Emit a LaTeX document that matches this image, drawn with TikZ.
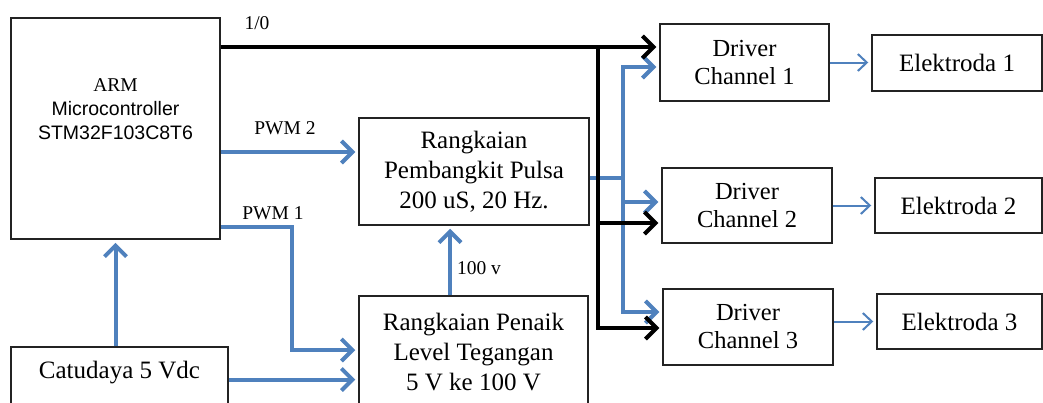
\documentclass[tikz,border=0pt]{standalone}
\usepackage{fontspec}
\setmainfont{Liberation Serif}
\newfontfamily\arialfont{Liberation Sans}
\usetikzlibrary{arrows.meta}
\definecolor{flowblue}{RGB}{79,129,189}
\definecolor{boxline}{RGB}{35,35,35}
\begin{document}
\begin{tikzpicture}[x=1pt,y=-1pt,
  box/.style={draw=boxline, line width=1.5pt, rectangle, inner sep=0pt, align=center,
              text=black, font=\fontsize{25}{30}\selectfont},
  drvbox/.style={box, font=\fontsize{24.5}{28}\selectfont},
  bigtxt/.style={inner sep=0pt, align=center, font=\fontsize{25}{30}\selectfont},
  lbl/.style={inner sep=0pt, font=\fontsize{19.5}{24}\selectfont},
  blk/.style={draw=black, line width=4pt, shorten >=3pt,
              -{Straight Barb[length=11pt,width=22pt]}},
  blu/.style={draw=flowblue, line width=4pt, shorten >=3pt,
              -{Straight Barb[length=11pt,width=22pt]}},
  thinblu/.style={draw=flowblue, line width=2pt, shorten >=3pt,
              -{Straight Barb[length=9pt,width=17pt]}},
  plainblu/.style={draw=flowblue, line width=4pt},
  plainblk/.style={draw=black, line width=4pt}
]
\useasboundingbox (0,0) rectangle (1043,402);
\fill[white] (0,0) rectangle (1043,402);
\clip (0,0) rectangle (1043,402);

% blocks
\node[box, minimum width=209pt, minimum height=221pt] (arm) at (115.5,128.5) {};
\node[inner sep=0pt, align=center, font=\fontsize{19.5}{24}\selectfont] (armtext) at (115.5,109)
  {ARM\\{\arialfont Microcontroller}\\{\arialfont STM32F103C8T6}};
\node[box, minimum width=217pt, minimum height=65pt] (catu) at (119.5,379.5) {};
\node[bigtxt] (catutext) at (119.5,373) {Catudaya 5 Vdc};
\node[box, minimum width=230pt, minimum height=107pt] (pulsa) at (474,171.5)
  {Rangkaian\\Pembangkit Pulsa\\200 uS, 20 Hz.};
\node[box, minimum width=229pt, minimum height=112pt] (penaik) at (473.5,352)
  {Rangkaian Penaik\\Level Tegangan\\5 V ke 100 V};
\node[drvbox, minimum width=169pt, minimum height=77pt] (drv1) at (744.5,62.5) {Driver\\Channel 1};
\node[drvbox, minimum width=170pt, minimum height=75pt] (drv2) at (747,205.5) {Driver\\Channel 2};
\node[drvbox, minimum width=170pt, minimum height=76pt] (drv3) at (748,327) {Driver\\Channel 3};
\node[box, minimum width=170pt, minimum height=56pt] (el1) at (957,63) {Elektroda 1};
\node[box, minimum width=167pt, minimum height=55pt] (el2) at (958.5,205.5) {Elektroda 2};
\node[box, minimum width=165pt, minimum height=55pt] (el3) at (959.5,321.5) {Elektroda 3};

% junction points
\coordinate (kb) at (598,47);
\coordinate (bj) at (623,178);
\coordinate (p1) at (292,227);

% pulse output bus (blue)
\draw[plainblu] ([yshift=-6.5pt]pulsa.east) -- (bj);
\draw[blu] (bj) |- ([yshift=-4.5pt]drv1.west);
\draw[blu] (bj) |- ([yshift=3.5pt]drv2.west);
\draw[blu] (bj) |- ([yshift=15pt]drv3.west);

% 1/0 enable bus (black)
\draw[blk] (arm.east |- kb) -- ([yshift=15.5pt]drv1.west);
\draw[plainblk] (kb) -- ++(0,2);
\draw[blk] (kb) |- ([yshift=-17.5pt]drv2.west);
\draw[blk] (kb) |- ([yshift=-1pt]drv3.west);

% controller outputs
\draw[blu] ([yshift=-23.5pt]arm.east) -- ([yshift=19.5pt]pulsa.west);
\draw[blu] ([yshift=-98.5pt]arm.east) -- (p1) |- ([yshift=2pt]penaik.west);

% supply and level shifter
\draw[blu] (catu.north -| arm.south) -- (arm.south);
\draw[blu] (catu.east) -- (catu.east -| penaik.west);
\draw[blu] ([xshift=-23.5pt]penaik.north) -- ([xshift=-24pt]pulsa.south);

% drivers to electrodes
\draw[thinblu] (drv1.east) -- (drv1.east -| el1.west);
\draw[thinblu] (drv2.east) -- (drv2.east -| el2.west);
\draw[thinblu] (el3.west -| drv3.east) -- (el3.west);

% connector labels
\node[lbl] (l10) at (257,23.5) {1/0};
\node[lbl] (lpwm2) at (285,128.5) {PWM 2};
\node[lbl] (lpwm1) at (273,213.5) {PWM 1};
\node[lbl] (l100) at (479,268.5) {100 v};
\end{tikzpicture}
\end{document}
